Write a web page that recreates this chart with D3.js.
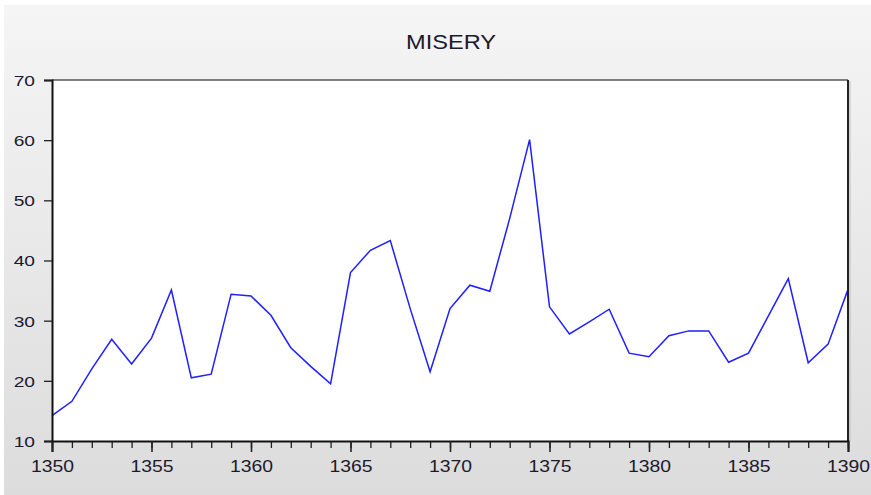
<!DOCTYPE html>
<html>
<head>
<meta charset="utf-8">
<script src="https://cdn.jsdelivr.net/npm/d3@7"></script>
<style>
	body{margin:0;background:#fff;}
	svg text{font-family:"Liberation Sans",Arial,sans-serif;}
</style>
</head>
<body>
<svg id="chart" width="871" height="495"></svg>
<script>
// data
const years = d3.range(1350, 1391);
const misery = [
	14.2, 16.6, 22.0, 26.9, 22.8, 27.1, 35.1, 20.5, 21.1, 34.4,
	34.1, 30.9, 25.5, 22.4, 19.5, 38.0, 41.7, 43.3, 32.0, 21.5,
	32.0, 35.9, 34.9, 47.0, 60.1, 32.3, 27.8, 29.8, 31.9, 24.6,
	24.0, 27.5, 28.3, 28.3, 23.1, 24.6, 30.8, 37.0, 23.0, 26.1,
	35.2
];
const yTicks = [10, 20, 30, 40, 50, 60, 70];
const xTicks = [1350, 1355, 1360, 1365, 1370, 1375, 1380, 1385, 1390];

const svg = d3.select("#chart");
const margin = {top: 80, right: 23, bottom: 54, left: 52};
const W = 871, H = 495;
const width = W - margin.left - margin.right;
const height = H - margin.top - margin.bottom;

// gray backdrop
const defs = svg.append("defs");
const grad = defs.append("linearGradient")
	.attr("id", "bg").attr("x1", 0).attr("y1", 0).attr("x2", 0).attr("y2", 1);
grad.append("stop").attr("offset", "0%").attr("stop-color", "#f5f5f5");
grad.append("stop").attr("offset", "100%").attr("stop-color", "#dcdcdc");
svg.append("rect")
	.attr("x", 4).attr("y", 5)
	.attr("width", W - 4).attr("height", H - 5)
	.attr("fill", "url(#bg)");

const g = svg.append("g").attr("transform", `translate(${margin.left},${margin.top})`);

const x = d3.scaleLinear().domain([1350, 1390]).range([0, width]);
const y = d3.scaleLinear().domain([10, 70]).range([height, 0]);

g.append("rect")
	.attr("width", width).attr("height", height)
	.attr("fill", "#fff");

// title
svg.append("text")
	.attr("transform", `translate(${margin.left + width / 2 + 1},49) scale(1.18,1)`)
	.attr("text-anchor", "middle")
	.attr("font-size", 20)
	.attr("fill", "#1a1a2a")
	.text("MISERY");

// line
const line = d3.line()
	.x((d, i) => x(years[i]))
	.y(d => y(d));
g.append("path")
	.datum(misery)
	.attr("fill", "none")
	.attr("stroke", "#1f1fff")
	.attr("stroke-width", 1.5)
	.attr("d", line);

// frame
g.append("line").attr("x1", 0).attr("x2", width).attr("y1", 0).attr("y2", 0)
	.attr("stroke", "#555").attr("stroke-width", 1.5);
g.append("line").attr("x1", width).attr("x2", width).attr("y1", 0).attr("y2", height)
	.attr("stroke", "#222").attr("stroke-width", 2);
g.append("line").attr("x1", width + 2).attr("x2", width + 2).attr("y1", 1).attr("y2", height)
	.attr("stroke", "#bbb").attr("stroke-width", 1);

// y axis
const yAxis = g.append("g")
	.call(d3.axisLeft(y).tickValues(yTicks).tickSize(8).tickPadding(6));
yAxis.select(".domain").attr("stroke", "#111").attr("stroke-width", 2);
yAxis.selectAll(".tick line").attr("stroke", "#222").attr("stroke-width", 1.3);
yAxis.selectAll(".tick text")
	.attr("font-size", 15)
	.attr("fill", "#1a1a2a")
	.attr("font-family", "Liberation Sans, Arial, sans-serif")
	.attr("transform", "translate(-17,0) scale(1.28,1)")
	.attr("x", 0)
	.attr("dy", "0.36em");

// x axis, minor ticks every year
const xMinor = g.append("g")
	.attr("transform", `translate(0,${height})`)
	.call(d3.axisBottom(x).tickValues(years).tickSize(7).tickFormat(""));
xMinor.select(".domain").remove();
xMinor.selectAll(".tick line").attr("stroke", "#222").attr("stroke-width", 1.3);

const xAxis = g.append("g")
	.attr("transform", `translate(0,${height})`)
	.call(d3.axisBottom(x).tickValues(xTicks).tickFormat(d3.format("d")).tickSize(11).tickPadding(5));
xAxis.select(".domain").attr("stroke", "#111").attr("stroke-width", 2);
xAxis.selectAll(".tick line").attr("stroke", "#222").attr("stroke-width", 1.6);
xAxis.selectAll(".tick text")
	.attr("font-size", 17)
	.attr("fill", "#1a1a2a")
	.attr("font-family", "Liberation Sans, Arial, sans-serif")
	.attr("transform", "scale(1.14,1)")
	.attr("y", 0)
	.attr("dy", "1.83em");
</script>
</body>
</html>
